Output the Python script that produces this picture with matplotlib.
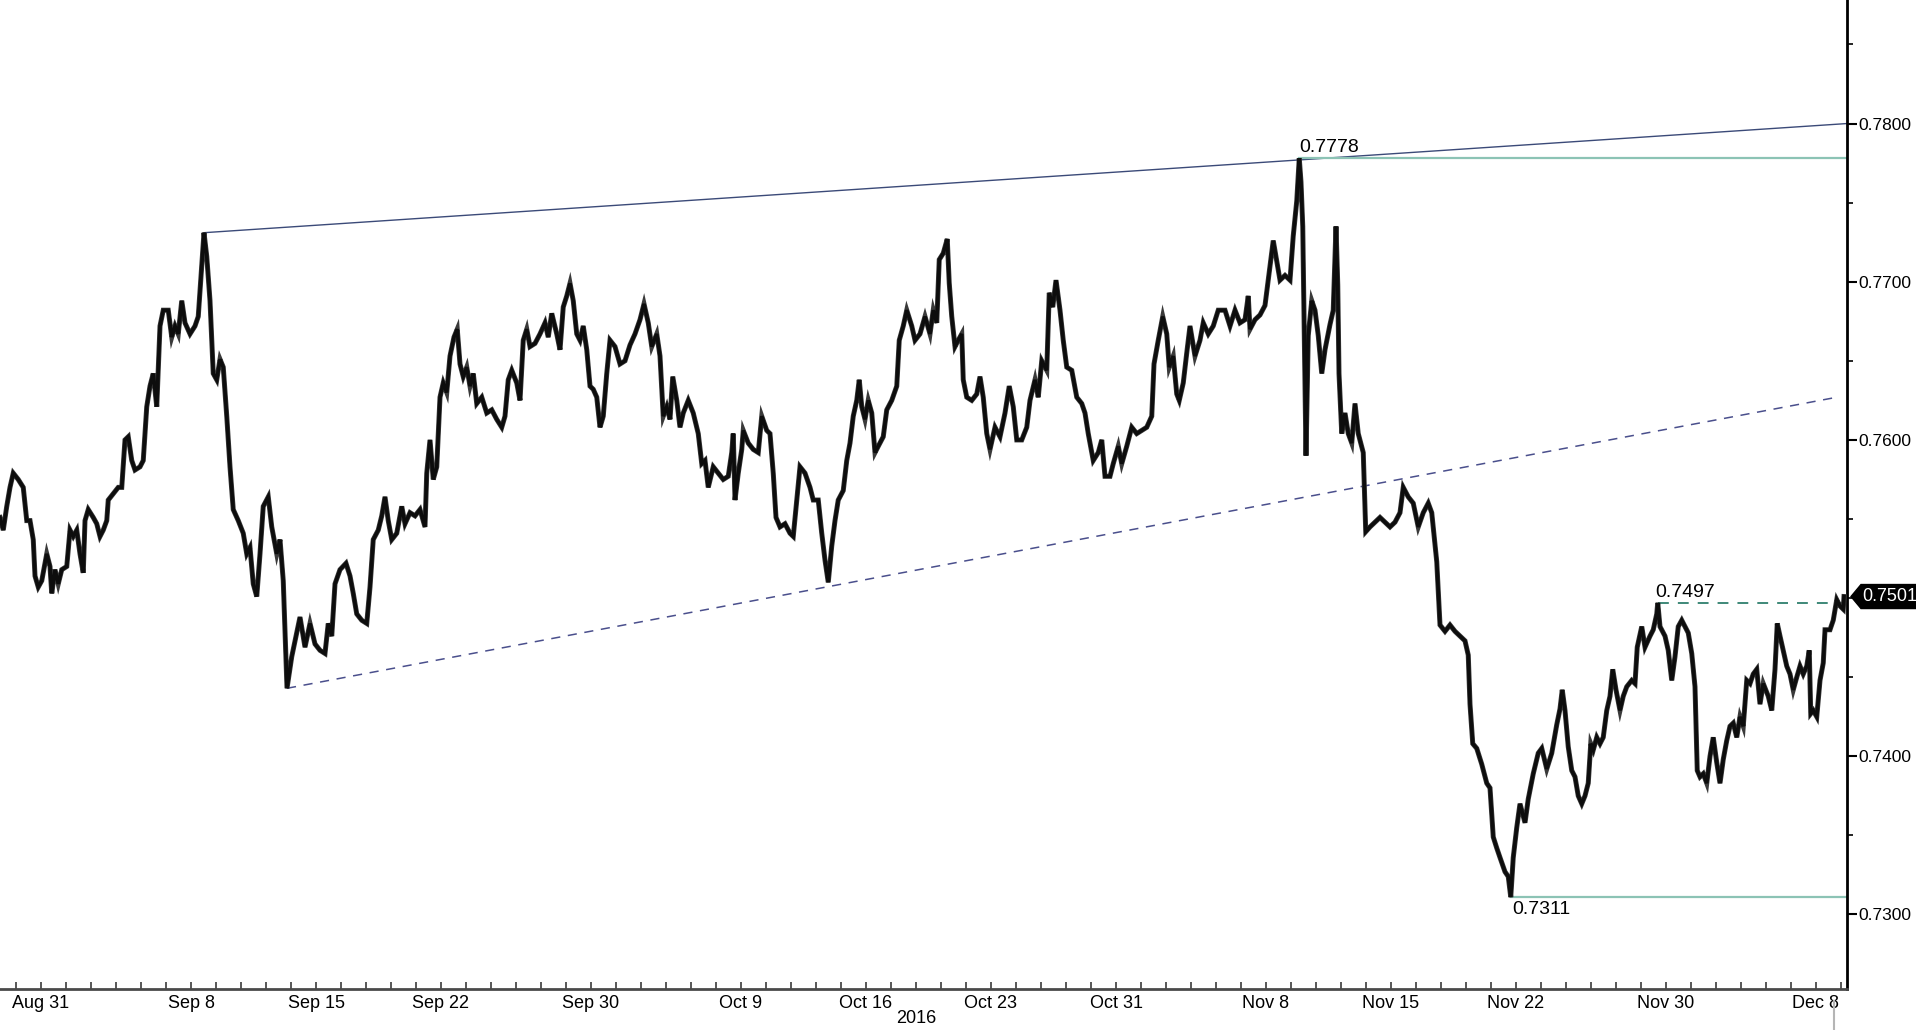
import numpy as np
import matplotlib
matplotlib.use("Agg")
import matplotlib.pyplot as plt
import matplotlib.transforms as mtransforms
from matplotlib.patches import Polygon
from matplotlib.ticker import FixedLocator, MultipleLocator, FuncFormatter

plt.rcParams['font.family'] = ['Liberation Sans', 'DejaVu Sans']

# ---------------- data (time = trading days after 2016-08-31, weekends removed) ----------------
t_aug_sep = [-1.64, -1.51, -1.37, -1.24, -1.11, -0.91, -0.71, -0.57, -0.44, -0.31,
             -0.24, -0.11, 0.03, 0.23, 0.36, 0.43, 0.56, 0.69, 0.83, 1.03,
             1.16, 1.29, 1.43, 1.56, 1.69, 1.76, 1.89, 2.09, 2.23, 2.36,
             2.49, 2.63, 2.69, 2.89, 3.09, 3.23, 3.36, 3.49, 3.63, 3.76,
             3.96, 4.09, 4.23, 4.36, 4.49, 4.63, 4.76, 4.89, 5.09, 5.23,
             5.36, 5.49, 5.63, 5.76, 5.96, 6.16, 6.29, 6.43, 6.52, 6.63,
             6.76, 6.89, 7.03, 7.16, 7.29, 7.43, 7.56, 7.69, 7.89, 8.09,
             8.23, 8.36, 8.49, 8.63, 8.76, 8.89, 9.09, 9.23, 9.43, 9.56,
             9.69, 9.84, 10.03, 10.23, 10.36, 10.56, 10.76, 10.96]
p_aug_sep = [0.7551, 0.7543, 0.7558, 0.7570, 0.7579, 0.7575, 0.7570, 0.7549, 0.7549, 0.7537,
             0.7514, 0.7507, 0.7511, 0.7528, 0.7520, 0.7503, 0.7518, 0.7509, 0.7518, 0.7520,
             0.7543, 0.7539, 0.7543, 0.7528, 0.7516, 0.7549, 0.7556, 0.7551, 0.7547, 0.7539,
             0.7543, 0.7549, 0.7562, 0.7566, 0.7570, 0.7570, 0.7600, 0.7602, 0.7587, 0.7581,
             0.7583, 0.7587, 0.7621, 0.7634, 0.7642, 0.7621, 0.7672, 0.7682, 0.7682, 0.7665,
             0.7672, 0.7667, 0.7688, 0.7674, 0.7667, 0.7672, 0.7678, 0.7710, 0.7731, 0.7716,
             0.7688, 0.7642, 0.7638, 0.7651, 0.7646, 0.7615, 0.7583, 0.7556, 0.7549, 0.7541,
             0.7528, 0.7532, 0.7509, 0.7501, 0.7528, 0.7558, 0.7564, 0.7545, 0.7528, 0.7537,
             0.7511, 0.7443, 0.7463, 0.7478, 0.7488, 0.7469, 0.7484, 0.7471]

t_sep_oct = [11.16, 11.36, 11.49, 11.63, 11.76, 11.96, 12.20, 12.36, 12.49, 12.63,
             12.83, 13.03, 13.16, 13.29, 13.49, 13.63, 13.76, 13.89, 14.03, 14.23,
             14.43, 14.56, 14.76, 14.96, 15.16, 15.36, 15.43, 15.56, 15.69, 15.83,
             15.96, 16.09, 16.23, 16.36, 16.52, 16.65, 16.76, 16.89, 17.03, 17.16,
             17.29, 17.43, 17.63, 17.83, 18.03, 18.23, 18.43, 18.56, 18.69, 18.83,
             19.03, 19.16, 19.29, 19.43, 19.56, 19.76, 19.96, 20.16, 20.29, 20.43,
             20.63, 20.76, 20.89, 21.03, 21.16, 21.29, 21.43, 21.56, 21.69, 21.83,
             21.96, 22.09, 22.23, 22.36, 22.49, 22.63, 22.76, 22.96, 23.16, 23.36,
             23.56]
p_sep_oct = [0.7467, 0.7465, 0.7484, 0.7476, 0.7509, 0.7518, 0.7522, 0.7514, 0.7503, 0.7490,
             0.7486, 0.7484, 0.7507, 0.7537, 0.7543, 0.7552, 0.7564, 0.7549, 0.7537, 0.7541,
             0.7558, 0.7547, 0.7554, 0.7552, 0.7556, 0.7545, 0.7579, 0.7600, 0.7575, 0.7583,
             0.7627, 0.7636, 0.7630, 0.7653, 0.7665, 0.7670, 0.7648, 0.7640, 0.7646, 0.7634,
             0.7642, 0.7623, 0.7627, 0.7617, 0.7619, 0.7613, 0.7608, 0.7615, 0.7638, 0.7644,
             0.7636, 0.7625, 0.7663, 0.7670, 0.7659, 0.7661, 0.7667, 0.7674, 0.7665, 0.7680,
             0.7667, 0.7657, 0.7684, 0.7691, 0.7699, 0.7688, 0.7667, 0.7663, 0.7672, 0.7657,
             0.7634, 0.7632, 0.7627, 0.7608, 0.7615, 0.7642, 0.7663, 0.7659, 0.7648, 0.7650,
             0.7660]

t_oct_a = [23.76, 23.96, 24.12, 24.29, 24.43, 24.63, 24.76, 24.89, 25.03, 25.16,
           25.27, 25.43, 25.56, 25.69, 25.89, 26.09, 26.29, 26.43, 26.56, 26.69,
           26.89, 27.09, 27.29, 27.49, 27.63, 27.69, 27.76, 27.89, 28.03, 28.09,
           28.29, 28.49, 28.69, 28.83, 29.03, 29.16, 29.29, 29.40, 29.56, 29.76,
           29.96, 30.09, 30.23, 30.36, 30.56, 30.76, 30.89, 31.09, 31.23, 31.36,
           31.49, 31.63, 31.76, 31.89, 32.09, 32.23, 32.36, 32.49, 32.63, 32.73,
           32.83, 32.96, 33.09, 33.23, 33.36, 33.49, 33.69, 33.83, 34.03, 34.23,
           34.33, 34.49, 34.63, 34.83, 34.96, 35.16, 35.36, 35.56, 35.69, 35.83]
p_oct_a = [0.7667, 0.7676, 0.7686, 0.7674, 0.7659, 0.7667, 0.7653, 0.7615, 0.7621, 0.7613,
           0.7640, 0.7625, 0.7608, 0.7617, 0.7625, 0.7617, 0.7604, 0.7585, 0.7587, 0.7570,
           0.7583, 0.7579, 0.7575, 0.7577, 0.7592, 0.7604, 0.7562, 0.7579, 0.7594, 0.7606,
           0.7598, 0.7594, 0.7592, 0.7615, 0.7606, 0.7604, 0.7579, 0.7551, 0.7545, 0.7547,
           0.7541, 0.7539, 0.7562, 0.7583, 0.7579, 0.7570, 0.7562, 0.7562, 0.7541, 0.7524,
           0.7510, 0.7533, 0.7549, 0.7562, 0.7568, 0.7587, 0.7598, 0.7615, 0.7625, 0.7638,
           0.7621, 0.7613, 0.7625, 0.7617, 0.7592, 0.7596, 0.7602, 0.7619, 0.7625, 0.7634,
           0.7663, 0.7672, 0.7682, 0.7672, 0.7663, 0.7667, 0.7678, 0.7667, 0.7682, 0.7674]

t_oct_b = [35.93, 36.09, 36.25, 36.33, 36.43, 36.56, 36.69, 36.83, 36.89, 37.03,
           37.23, 37.43, 37.56, 37.69, 37.83, 37.96, 38.16, 38.36, 38.56, 38.73,
           38.89, 39.03, 39.23, 39.43, 39.56, 39.76, 39.89, 40.03, 40.23, 40.33,
           40.47, 40.60, 40.76, 40.89, 41.03, 41.23, 41.43, 41.63, 41.76, 41.89,
           42.09, 42.29, 42.43, 42.56, 42.76, 42.89, 43.09, 43.23, 43.43, 43.63,
           43.83, 44.03, 44.23, 44.43, 44.52, 44.69, 44.87, 45.03, 45.13, 45.29,
           45.43, 45.53, 45.69, 45.83, 45.96, 46.16, 46.36, 46.49, 46.69, 46.89,
           47.09, 47.36, 47.56, 47.76, 47.96, 48.16, 48.29]
p_oct_b = [0.7714, 0.7718, 0.7727, 0.7699, 0.7678, 0.7659, 0.7663, 0.7667, 0.7638, 0.7627,
           0.7625, 0.7629, 0.7640, 0.7627, 0.7604, 0.7594, 0.7608, 0.7602, 0.7617, 0.7634,
           0.7621, 0.7600, 0.7600, 0.7608, 0.7625, 0.7638, 0.7627, 0.7650, 0.7644, 0.7693,
           0.7684, 0.7701, 0.7682, 0.7663, 0.7646, 0.7644, 0.7627, 0.7623, 0.7617, 0.7604,
           0.7587, 0.7592, 0.7600, 0.7577, 0.7577, 0.7585, 0.7596, 0.7585, 0.7596, 0.7608,
           0.7604, 0.7606, 0.7608, 0.7615, 0.7648, 0.7663, 0.7678, 0.7667, 0.7646, 0.7653,
           0.7629, 0.7625, 0.7636, 0.7655, 0.7672, 0.7653, 0.7663, 0.7674, 0.7667, 0.7672,
           0.7682, 0.7682, 0.7672, 0.7682, 0.7674, 0.7676, 0.7691]

t_nov_a = [48.36, 48.56, 48.76, 48.96, 49.09, 49.29, 49.43, 49.56, 49.76, 49.96,
           50.09, 50.23, 50.33, 50.40, 50.47, 50.53, 50.60, 50.69, 50.83, 50.96,
           51.09, 51.23, 51.36, 51.56, 51.69, 51.80, 51.87, 51.92, 52.03, 52.16,
           52.29, 52.43, 52.56, 52.69, 52.89, 52.99, 53.16, 53.36, 53.56, 53.76,
           53.96, 54.16, 54.36, 54.49, 54.69, 54.89, 55.09, 55.29, 55.49, 55.63,
           55.83, 55.96, 56.16, 56.36, 56.56, 56.76, 56.96, 57.09, 57.16, 57.27,
           57.43, 57.63, 57.83, 57.96, 58.09, 58.23, 58.36, 58.56, 58.69, 58.79,
           58.89, 59.03, 59.16, 59.36, 59.49, 59.69, 59.89, 60.03, 60.23, 60.43,
           60.63, 60.76]
p_nov_a = [0.7670, 0.7676, 0.7679, 0.7685, 0.7701, 0.7726, 0.7713, 0.7701, 0.7704, 0.7701,
           0.7729, 0.7751, 0.7778, 0.7763, 0.7735, 0.7666, 0.7590, 0.7666, 0.7688, 0.7682,
           0.7666, 0.7642, 0.7657, 0.7673, 0.7682, 0.7735, 0.7698, 0.7642, 0.7604, 0.7617,
           0.7604, 0.7598, 0.7623, 0.7604, 0.7592, 0.7542, 0.7545, 0.7548, 0.7551, 0.7548,
           0.7545, 0.7548, 0.7554, 0.7570, 0.7564, 0.7560, 0.7545, 0.7554, 0.7560, 0.7554,
           0.7523, 0.7483, 0.7479, 0.7483, 0.7479, 0.7476, 0.7473, 0.7464, 0.7433, 0.7408,
           0.7405, 0.7395, 0.7383, 0.7380, 0.7349, 0.7342, 0.7336, 0.7327, 0.7324, 0.7311,
           0.7336, 0.7355, 0.7370, 0.7358, 0.7373, 0.7389, 0.7402, 0.7405, 0.7392, 0.7402,
           0.7420, 0.7430]

t_nov_dec = [60.85, 60.96, 61.09, 61.23, 61.36, 61.49, 61.63, 61.76, 61.89, 61.99,
             62.09, 62.23, 62.36, 62.49, 62.63, 62.76, 62.87, 63.00, 63.16, 63.29,
             63.43, 63.63, 63.76, 63.85, 64.03, 64.16, 64.36, 64.49, 64.63, 64.67,
             64.76, 64.96, 65.09, 65.23, 65.36, 65.49, 65.63, 65.76, 65.89, 66.03,
             66.16, 66.25, 66.36, 66.49, 66.63, 66.76, 66.89, 67.03, 67.16, 67.29,
             67.43, 67.56, 67.69, 67.83, 67.96, 68.09, 68.23, 68.36, 68.49, 68.63,
             68.76, 68.89, 69.09, 69.23, 69.36, 69.45, 69.56, 69.69, 69.83, 69.96,
             70.09, 70.23, 70.36, 70.49, 70.63, 70.73, 70.79, 70.89, 71.03, 71.16,
             71.29, 71.36, 71.56, 71.69, 71.83, 71.96, 72.09, 72.12]
p_nov_dec = [0.7442, 0.7429, 0.7406, 0.7391, 0.7387, 0.7375, 0.7370, 0.7375, 0.7383, 0.7408,
             0.7404, 0.7412, 0.7408, 0.7412, 0.7429, 0.7438, 0.7455, 0.7442, 0.7429, 0.7438,
             0.7444, 0.7448, 0.7446, 0.7469, 0.7482, 0.7469, 0.7476, 0.7480, 0.7490, 0.7497,
             0.7482, 0.7476, 0.7467, 0.7448, 0.7463, 0.7482, 0.7486, 0.7482, 0.7478, 0.7465,
             0.7444, 0.7391, 0.7387, 0.7389, 0.7383, 0.7400, 0.7412, 0.7396, 0.7383, 0.7398,
             0.7410, 0.7419, 0.7421, 0.7412, 0.7425, 0.7419, 0.7448, 0.7446, 0.7452, 0.7455,
             0.7433, 0.7446, 0.7438, 0.7429, 0.7455, 0.7484, 0.7476, 0.7467, 0.7457, 0.7452,
             0.7442, 0.7450, 0.7457, 0.7452, 0.7457, 0.7467, 0.7427, 0.7429, 0.7425, 0.7448,
             0.7459, 0.7480, 0.7480, 0.7486, 0.7499, 0.7495, 0.7493, 0.7501]

# date axis labels
base_date = '2016-08-31'
tick_dates = ['2016-08-31', '2016-09-08', '2016-09-15', '2016-09-22', '2016-09-30',
              '2016-10-09', '2016-10-16', '2016-10-23', '2016-10-31', '2016-11-08',
              '2016-11-15', '2016-11-22', '2016-11-30', '2016-12-08']
tick_labels = ['Aug 31', 'Sep 8', 'Sep 15', 'Sep 22', 'Sep 30', 'Oct 9', 'Oct 16',
               'Oct 23', 'Oct 31', 'Nov 8', 'Nov 15', 'Nov 22', 'Nov 30', 'Dec 8']
year_label = '2016'

# price axis (0.7500 is hidden behind the last-price tag)
y_ticks = [0.7300, 0.7400, 0.7600, 0.7700, 0.7800]

# levels and trend lines
high_level, high_t = 0.7778, 50.33
low_level, low_t = 0.7311, 58.79
mid_level, mid_t = 0.7497, 64.67
upper_trend_t = [6.52, 72.24]
upper_trend_p = [0.7731, 0.7800]
lower_trend_t = [9.84, 71.84]
lower_trend_p = [0.7443, 0.7627]

t = np.array(t_aug_sep + t_sep_oct + t_oct_a + t_oct_b + t_nov_a + t_nov_dec)
p = np.array(p_aug_sep + p_sep_oct + p_oct_a + p_oct_b + p_nov_a + p_nov_dec)
last_price = p[-1]

# ---------------- figure ----------------
W, H, DPI = 1916, 1030, 100
fig = plt.figure(figsize=(W / DPI, H / DPI), dpi=DPI)
ax = fig.add_axes([0, 41 / H, 1847 / W, 1 - 41 / H])

x_min, x_max = -1.64, 72.24
y_min, y_max = 0.72529, 0.78781
ax.set_xlim(x_min, x_max)
ax.set_ylim(y_min, y_max)

# trend lines and levels
ax.plot(upper_trend_t, upper_trend_p, color='#3b4a78', lw=1.0, zorder=2)
ax.plot(lower_trend_t, lower_trend_p, color='#4a4f8c', lw=1.1, dashes=(6, 5), zorder=2)
ax.plot([high_t, x_max], [high_level, high_level], color='#8cc3b5', lw=1.6, zorder=2)
ax.plot([low_t, x_max], [low_level, low_level], color='#8cc3b5', lw=1.6, zorder=2)
ax.plot([mid_t, t[-1]], [mid_level, mid_level], color='#2f7f6d', lw=1.3, dashes=(6, 5), zorder=2)

# price series
ax.plot(t, p, color='#3a3a3a', lw=3.6, solid_joinstyle='miter', zorder=3)
ax.plot(t, p, color='#0d0d0d', lw=2.6, solid_joinstyle='miter', zorder=3)

# level labels
ax.annotate(f'{high_level:.4f}', xy=(high_t, high_level), xytext=(0, 1.5),
            textcoords='offset points', ha='left', va='bottom', fontsize=14, color='black')
ax.annotate(f'{low_level:.4f}', xy=(low_t, low_level), xytext=(1, -3),
            textcoords='offset points', ha='left', va='top', fontsize=14, color='black')
ax.annotate(f'{mid_level:.4f}', xy=(mid_t, mid_level), xytext=(-2, 1.5),
            textcoords='offset points', ha='left', va='bottom', fontsize=14, color='black')

# spines
for s in ['top', 'left']:
    ax.spines[s].set_visible(False)
ax.spines['right'].set_color('black')
ax.spines['right'].set_linewidth(2.0)
ax.spines['bottom'].set_color('#4a4a4a')
ax.spines['bottom'].set_linewidth(2.0)

# y axis on right
ax.yaxis.tick_right()
ax.yaxis.set_major_locator(FixedLocator(y_ticks))
ax.yaxis.set_minor_locator(MultipleLocator(0.005))
ax.yaxis.set_major_formatter(FuncFormatter(lambda v, pos: f'{v:.4f}'))
ax.tick_params(axis='y', which='major', direction='out', length=7, width=1.5,
               pad=1, labelsize=12.5, colors='black')
ax.tick_params(axis='y', which='minor', direction='out', length=4, width=1.2, colors='black')

# x axis
tick_pos = np.busday_count(base_date, tick_dates)
ax.set_xticks(tick_pos)
ax.set_xticklabels(tick_labels)
ax.xaxis.set_minor_locator(MultipleLocator(1))
ax.tick_params(axis='x', which='both', direction='in', length=5, width=1.3,
               colors='#4a4a4a', pad=4, labelsize=13, labelcolor='black')
ax.text(0.496, -0.0295, year_label, transform=ax.transAxes, ha='center', va='center',
        fontsize=13, color='black', clip_on=False)

# cursor marker below axis
cur = mtransforms.blended_transform_factory(ax.transData, ax.transAxes)
ax.plot([71.7, 71.7], [-0.012, -0.045], transform=cur, color='#b5b5b5', lw=1.5, clip_on=False)

# last price tag
fig.canvas.draw()
trans = mtransforms.blended_transform_factory(ax.transAxes, ax.transData)
x0, y0 = trans.transform((1.0, last_price))
tag = Polygon([(x0 + 4, y0), (x0 + 14, y0 + 12), (W, y0 + 12), (W, y0 - 12), (x0 + 14, y0 - 12)],
              closed=True, transform=None, facecolor='black', edgecolor='black', clip_on=False)
fig.patches.append(tag)
fig.text((x0 + 15) / W, y0 / H, f'{last_price:.4f}', color='white', fontsize=13,
         ha='left', va='center')

fig.savefig('out.png', dpi=DPI)
